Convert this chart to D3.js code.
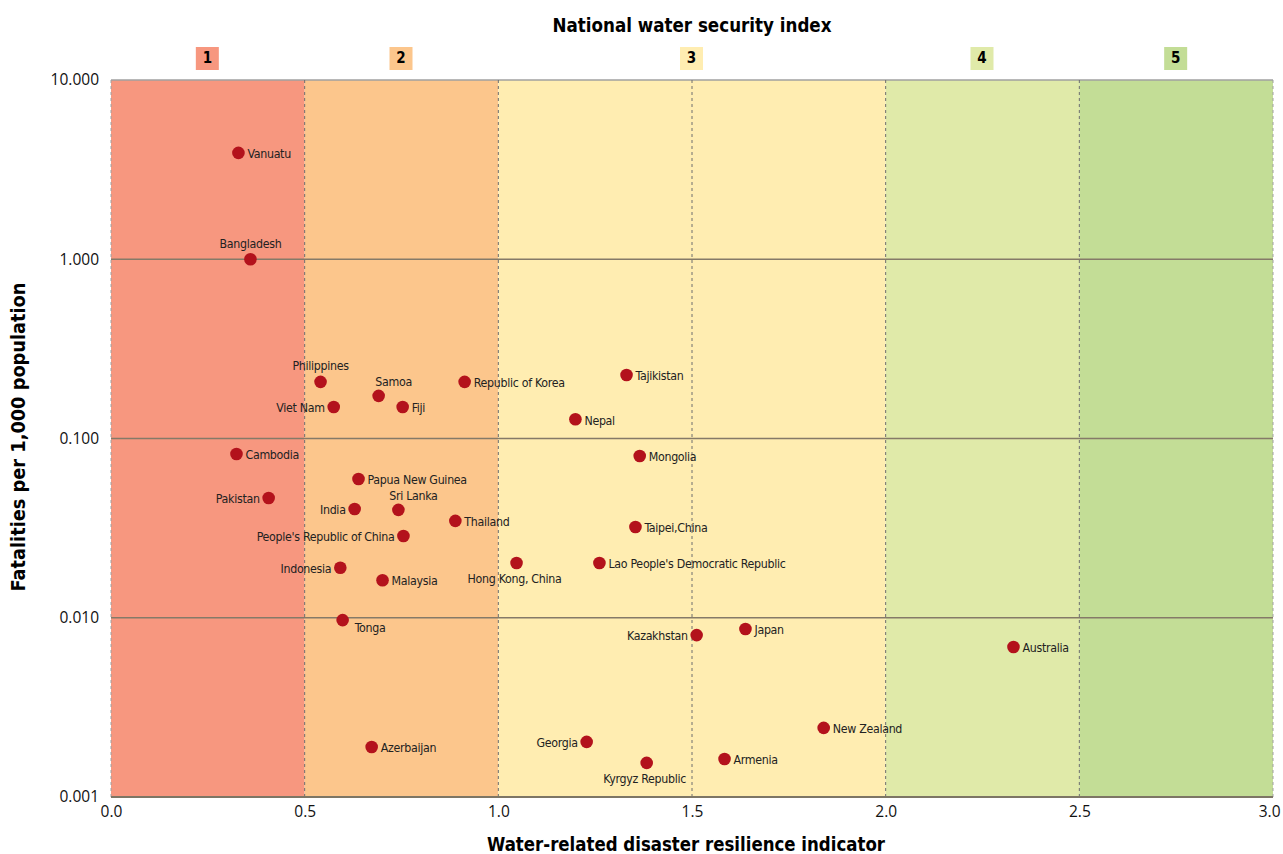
<!DOCTYPE html>
<html>
<head>
<meta charset="utf-8">
<script src="https://cdn.jsdelivr.net/npm/d3@7"></script>
<style>
  html, body { margin: 0; padding: 0; background: #fff; }
  svg { display: block; }
  .lbl { font-family: "DejaVu Sans Condensed", "Open Sans", sans-serif; font-size: 12.3px; letter-spacing: -0.3px; fill: #222; }
  .tick text { font-family: "Open Sans", "Noto Sans", sans-serif; font-size: 15.5px; fill: #111; }
  .title { font-family: "DejaVu Sans Condensed", sans-serif; font-weight: bold; font-size: 19px; fill: #000; }
</style>
</head>
<body>
<svg id="chart" width="1283" height="854"></svg>
<script>
// ---- Data ----
const countries = ["Vanuatu","Bangladesh","Philippines","Samoa","Republic of Korea","Viet Nam","Fiji","Tajikistan","Nepal","Cambodia","Mongolia","Papua New Guinea","Pakistan","India","Sri Lanka","Thailand","Taipei,China","People's Republic of China","Hong Kong, China","Lao People's Democratic Republic","Indonesia","Malaysia","Tonga","Kazakhstan","Japan","Australia","New Zealand","Georgia","Azerbaijan","Armenia","Kyrgyz Republic"];
const resilience = [0.329,0.360,0.541,0.691,0.913,0.575,0.753,1.331,1.199,0.324,1.365,0.639,0.407,0.629,0.742,0.889,1.354,0.755,1.047,1.261,0.592,0.701,0.598,1.512,1.638,2.330,1.840,1.228,0.673,1.584,1.383];
const fatalities = [3.92,1.00,0.207,0.173,0.207,0.150,0.150,0.226,0.128,0.0819,0.0798,0.0594,0.0466,0.0404,0.0400,0.0347,0.0321,0.0286,0.0202,0.0202,0.0190,0.0162,0.0097,0.0080,0.00865,0.00687,0.00243,0.00203,0.00190,0.00163,0.00155];
// label placement codes: r = right, l = left, t = above, tr = above-right, b = below, br = below-right
const labelSide = ["r","t","t","tr","r","l","r","r","r","r","r","r","l","l","tr","r","r","l","b","r","l","r","br","l","r","r","r","l","r","r","b"];

const bandNames = ["1","2","3","4","5"];
const bandStarts = [0, 0.5, 1.0, 2.0, 2.5];
const bandEnds = [0.5, 1.0, 2.0, 2.5, 3.0];
const bandColors = ["#F7977F","#FCC68C","#FFEDB1","#E0EAA9","#C3DD96"];

const xTicks = [0,0.5,1.0,1.5,2.0,2.5,3.0];
const yTicks = [0.001,0.01,0.1,1,10];

const xTitle = "Water-related disaster resilience indicator";
const yTitle = "Fatalities per 1,000 population";
const topTitle = "National water security index";

// ---- Layout ----
const svg = d3.select("#chart");
const L = 111, R = 1273, T = 80, B = 797;

const x = d3.scaleLinear().domain([0,3]).range([L,R]);
const y = d3.scaleLog().domain([0.001,10]).range([B,T]);

// Bands
svg.append("g").selectAll("rect").data(bandNames).join("rect")
  .attr("x",(d,i)=>x(bandStarts[i]))
  .attr("y",T)
  .attr("width",(d,i)=>x(bandEnds[i])-x(bandStarts[i]))
  .attr("height",B-T)
  .attr("fill",(d,i)=>bandColors[i]);

// Band label boxes
const bl = svg.append("g").selectAll("g").data(bandNames).join("g")
  .attr("transform",(d,i)=>`translate(${x((bandStarts[i]+bandEnds[i])/2)},58)`);
bl.append("rect").attr("x",-12).attr("y",-11).attr("width",23).attr("height",23)
  .attr("fill",(d,i)=>bandColors[i]);
bl.append("text").attr("class","title").style("font-size","15px")
  .attr("text-anchor","middle").attr("dy","0.36em").attr("x",-0.5).text(d=>d);

// Horizontal gridlines
svg.append("g").selectAll("line").data([0.01,0.1,1]).join("line")
  .attr("x1",L).attr("x2",R).attr("y1",d=>y(d)).attr("y2",d=>y(d))
  .attr("stroke","#857a68").attr("stroke-width",1.3);
// top border
svg.append("line").attr("x1",L).attr("x2",R).attr("y1",y(10)).attr("y2",y(10))
  .attr("stroke","#a0a0a0").attr("stroke-width",1.3);

// Vertical dashed lines
svg.append("g").selectAll("line").data(xTicks).join("line")
  .attr("x1",d=>x(d)).attr("x2",d=>x(d)).attr("y1",T).attr("y2",B)
  .attr("stroke",d=> (d===0||d===3)?"#a0a0a0":"#6e6e6e")
  .attr("stroke-width",1)
  .attr("stroke-dasharray","3,3");

// Bottom axis line
svg.append("line").attr("x1",L).attr("x2",R).attr("y1",B).attr("y2",B)
  .attr("stroke","#7d7665").attr("stroke-width",2.2);

// Axes (labels only)
const xAxis = svg.append("g").attr("transform",`translate(0,${B})`)
  .call(d3.axisBottom(x).tickValues(xTicks).tickFormat(d3.format(".1f")).tickSize(0).tickPadding(9));
xAxis.select(".domain").remove();
xAxis.selectAll(".tick text").filter(d=>d===3).attr("text-anchor","end").attr("dx","7");

const yAxis = svg.append("g").attr("transform",`translate(${L},0)`)
  .call(d3.axisLeft(y).tickValues(yTicks).tickFormat(d3.format(".3f")).tickSize(0).tickPadding(12));
yAxis.select(".domain").remove();

// Points
svg.append("g").selectAll("circle").data(countries).join("circle")
  .attr("cx",(d,i)=>x(resilience[i]))
  .attr("cy",(d,i)=>y(fatalities[i]))
  .attr("r",6.3)
  .attr("fill","#B3121C");

// Labels
const off = {
  r:  {dx: 9,  dy: 1,   a:"start"},
  l:  {dx: -9, dy: 1,   a:"end"},
  t:  {dx: 0,  dy: -16, a:"middle"},
  tr: {dx: 15, dy: -14, a:"middle"},
  b:  {dx: -2, dy: 16,  a:"middle"},
  br: {dx: 12, dy: 8,   a:"start"}
};
svg.append("g").selectAll("text").data(countries).join("text")
  .attr("class","lbl")
  .attr("x",(d,i)=>x(resilience[i]) + off[labelSide[i]].dx)
  .attr("y",(d,i)=>y(fatalities[i]) + off[labelSide[i]].dy)
  .attr("dy","0.35em")
  .attr("text-anchor",(d,i)=>off[labelSide[i]].a)
  .text(d=>d);

// Titles
svg.append("text").attr("class","title").attr("x",(L+R)/2).attr("y",32)
  .attr("text-anchor","middle").attr("textLength",279).attr("lengthAdjust","spacingAndGlyphs").text(topTitle);
svg.append("text").attr("class","title").attr("x",686).attr("y",851)
  .attr("text-anchor","middle").attr("textLength",398).attr("lengthAdjust","spacingAndGlyphs").text(xTitle);
svg.append("text").attr("class","title")
  .attr("transform",`translate(25,437) rotate(-90)`)
  .attr("text-anchor","middle").attr("textLength",309).attr("lengthAdjust","spacingAndGlyphs").text(yTitle);
</script>
</body>
</html>
